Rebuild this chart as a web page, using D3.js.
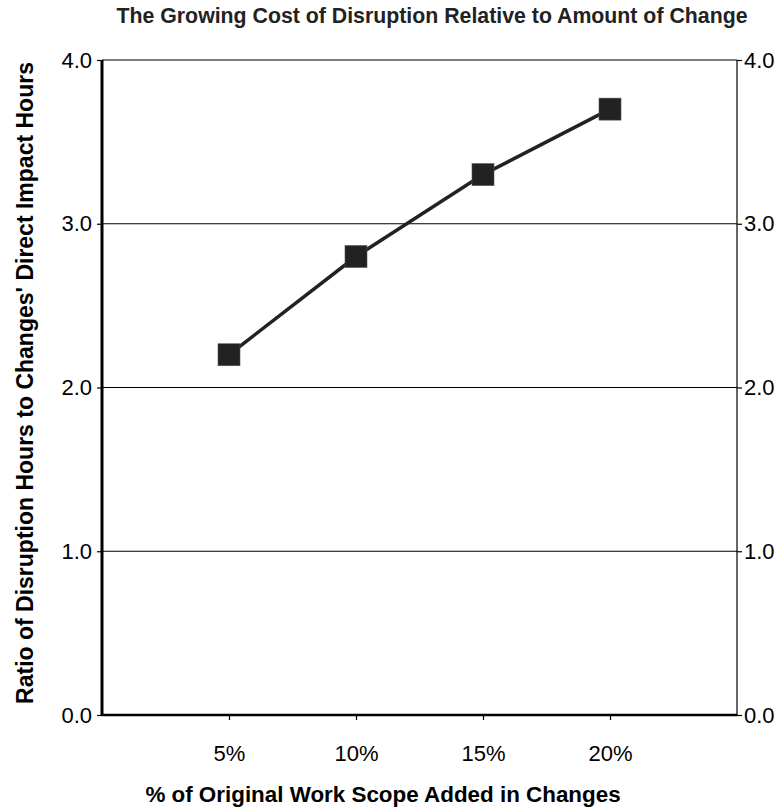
<!DOCTYPE html>
<html>
<head>
<meta charset="utf-8">
<script src="https://cdn.jsdelivr.net/npm/d3@7"></script>
<style>
  html, body { margin: 0; padding: 0; background: #fff; }
  svg { display: block; font-family: "Liberation Sans", Arial, sans-serif; }
</style>
</head>
<body>
<svg id="chart" width="779" height="808"></svg>
<script>
// Added work scope (%) and the disruption-to-direct-impact ratio at each level
const scopePct = [5, 10, 15, 20];
const ratio = [2.2, 2.8, 3.3, 3.7];
const xTickLabels = ["5%", "10%", "15%", "20%"];
const yTicks = [0, 1, 2, 3, 4];

const svg = d3.select("#chart");
const plotL = 102, plotR = 737, plotT = 60, plotB = 715;

const x = d3.scaleLinear().domain([0, 25]).range([plotL, plotR]);
const y = d3.scaleLinear().domain([0, 4]).range([plotB, plotT]);

// Horizontal gridlines
svg.append("g").selectAll("line")
  .data(yTicks.filter(d => d > 0))
  .join("line")
  .attr("x1", plotL).attr("x2", plotR)
  .attr("y1", d => y(d)).attr("y2", d => y(d))
  .attr("stroke", "#000").attr("stroke-width", 1.2);

// Left axis
const yAxisL = svg.append("g").attr("transform", `translate(${plotL},0)`)
  .call(d3.axisLeft(y).tickValues(yTicks).tickFormat(d3.format(".1f")).tickSize(5).tickPadding(5));
yAxisL.select(".domain").attr("stroke-width", 3).attr("d", `M0,${plotT}V${plotB}`);

// Right axis
const yAxisR = svg.append("g").attr("transform", `translate(${plotR},0)`)
  .call(d3.axisRight(y).tickValues(yTicks).tickFormat(d3.format(".1f")).tickSize(5).tickPadding(2));
yAxisR.select(".domain").attr("stroke-width", 1.2).attr("d", `M0,${plotT}V${plotB}`);

// Bottom axis
const xAxis = svg.append("g").attr("transform", `translate(0,${plotB})`)
  .call(d3.axisBottom(x).tickValues(scopePct).tickFormat((d, i) => xTickLabels[i]).tickSize(5).tickPadding(25));
xAxis.select(".domain").attr("stroke-width", 2.5).attr("d", `M${plotL},0H${plotR}`);

[yAxisL, yAxisR, xAxis].forEach(g => {
  g.selectAll("text").attr("font-size", 22).attr("fill", "#000")
    .attr("font-family", "'Liberation Sans', Arial, sans-serif");
  g.selectAll(".tick line").attr("stroke", "#000").attr("stroke-width", 1.2);
});

// Series line
const pts = scopePct.map((d, i) => [x(d), y(ratio[i])]);
svg.append("path")
  .attr("d", d3.line()(pts))
  .attr("fill", "none")
  .attr("stroke", "#222")
  .attr("stroke-width", 3.5);

// Square markers
const ms = 22;
svg.append("g").selectAll("rect")
  .data(pts)
  .join("rect")
  .attr("x", d => d[0] - ms / 2)
  .attr("y", d => d[1] - ms / 2)
  .attr("width", ms).attr("height", ms)
  .attr("fill", "#222")
  .attr("stroke", "#555").attr("stroke-width", 0.6);

// Title
svg.append("text")
  .attr("x", 432).attr("y", 23)
  .attr("text-anchor", "middle")
  .attr("font-size", 21.3).attr("font-weight", "bold").attr("fill", "#222")
  .text("The Growing Cost of Disruption Relative to Amount of Change");

// X axis title
svg.append("text")
  .attr("x", 383).attr("y", 802)
  .attr("text-anchor", "middle")
  .attr("font-size", 22.4).attr("font-weight", "bold").attr("fill", "#000")
  .text("% of Original Work Scope Added in Changes");

// Y axis title
svg.append("text")
  .attr("transform", "translate(33,383) rotate(-90)")
  .attr("text-anchor", "middle")
  .attr("font-size", 23).attr("font-weight", "bold").attr("fill", "#000")
  .text("Ratio of Disruption Hours to Changes' Direct Impact Hours");
</script>
</body>
</html>
